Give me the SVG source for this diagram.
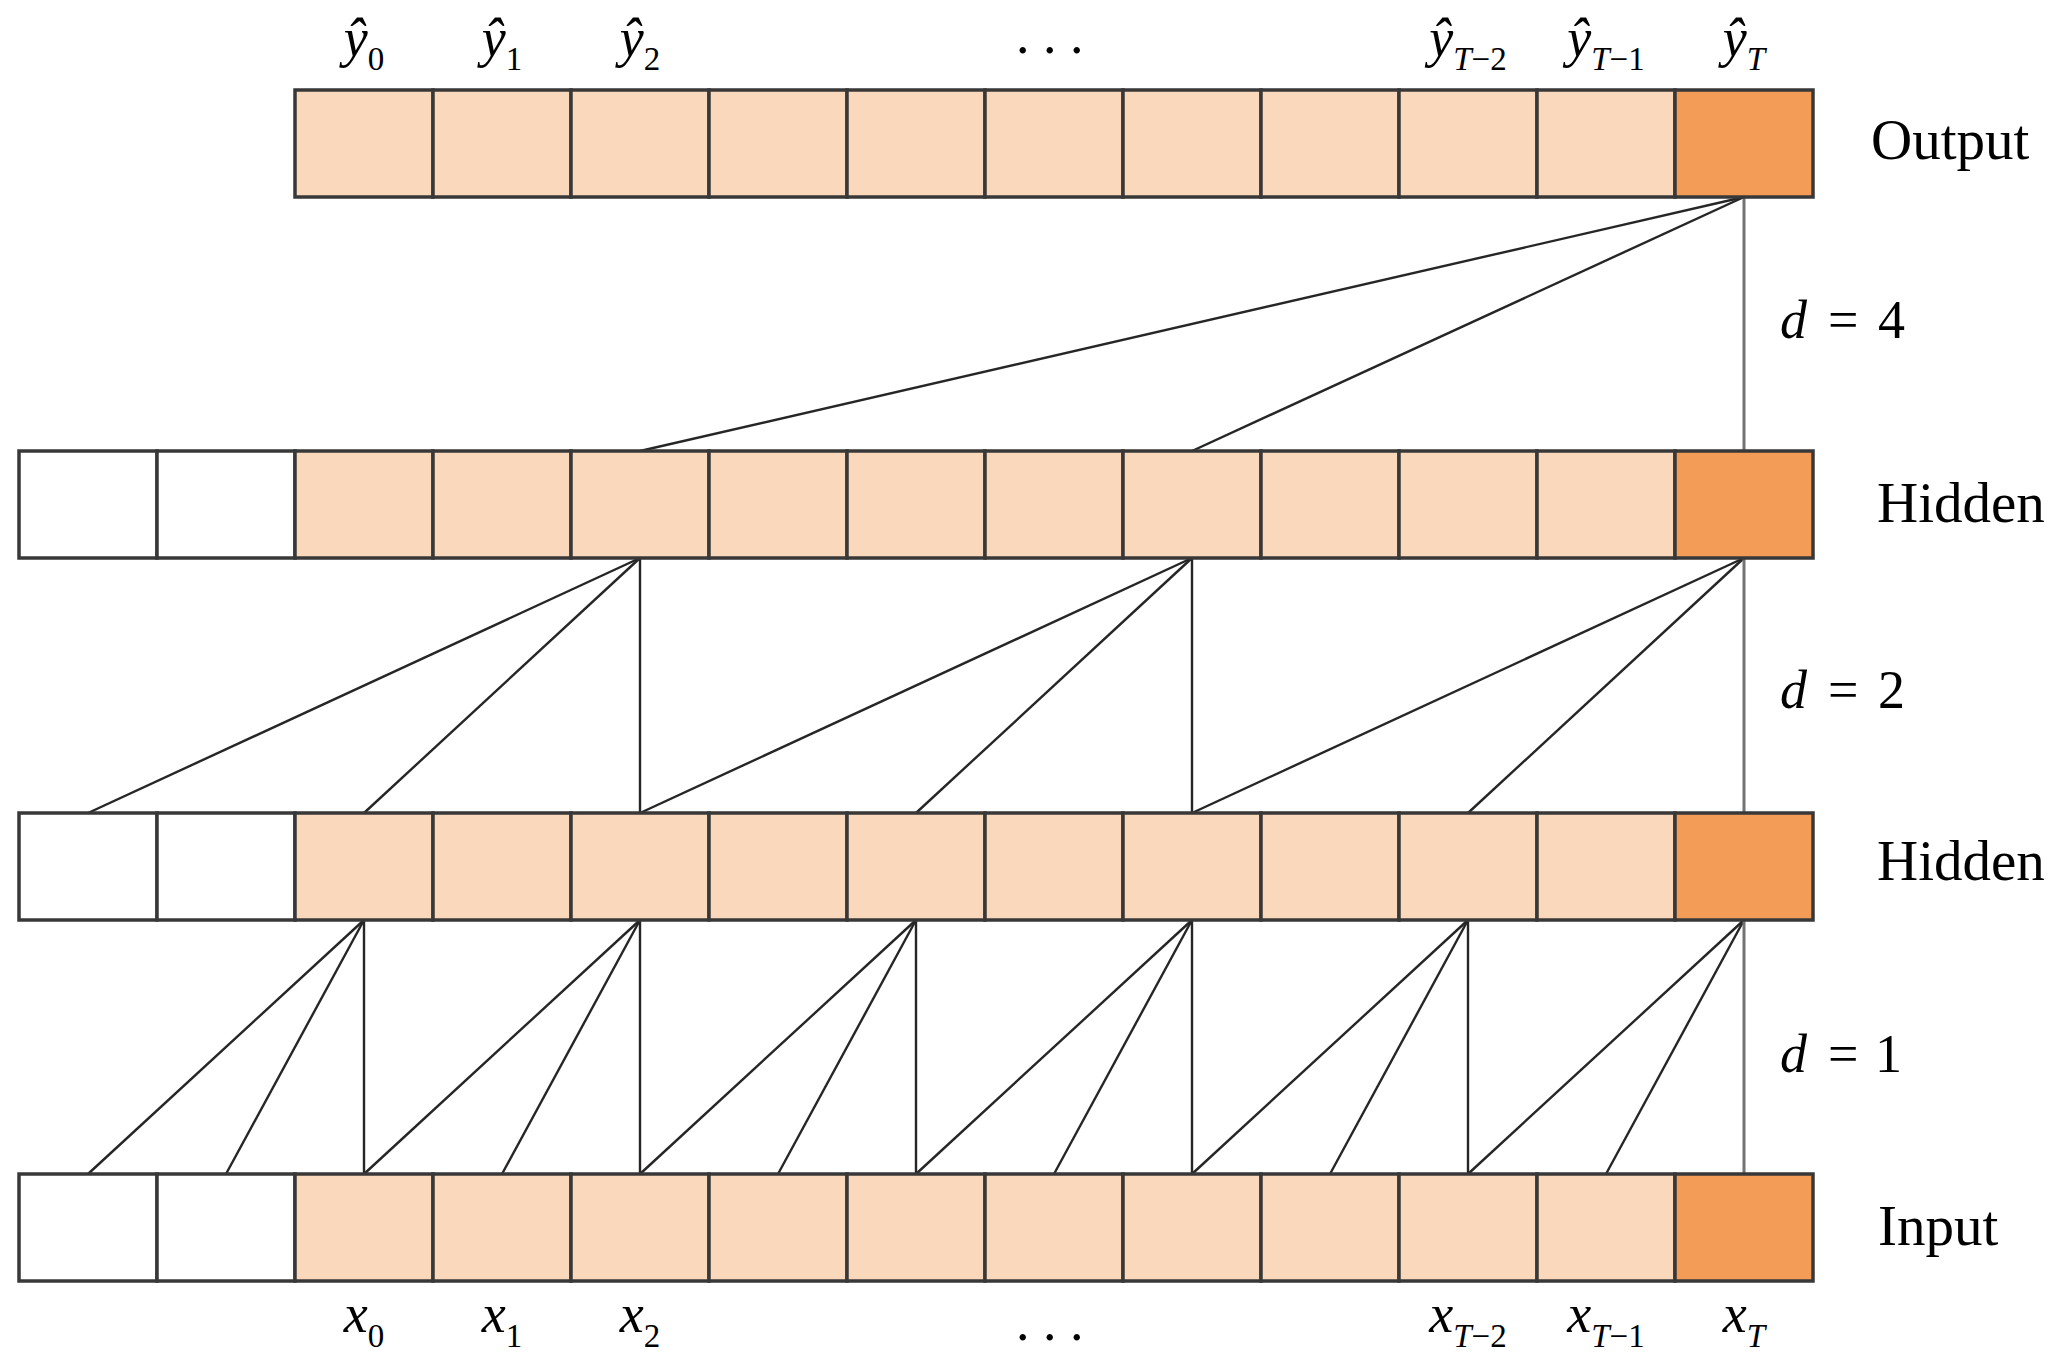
<svg xmlns="http://www.w3.org/2000/svg" width="2063" height="1366" viewBox="0 0 2063 1366">
<style>
.c{stroke:#383838;stroke-width:3.5}
.e{fill:#ffffff}
.l{fill:#fad8bc}
.o{fill:#f39c58}
.ln{stroke:#262626;stroke-width:2.4;fill:none}
.lg{stroke:#737373;stroke-width:3;fill:none}
text{font-family:"Liberation Serif","Times New Roman",serif;fill:#000}
.name{font-size:57px}
.lbl{font-size:54px;font-style:italic;text-anchor:middle}
.sub{font-size:33px;font-style:normal}
.it{font-style:italic}
.d{font-size:54px}
.dots{font-size:54px}
</style>
<rect width="2063" height="1366" fill="#ffffff"/>
<g id="connectors">
<!-- d = 4 -->
<line class="ln" x1="1744" y1="197" x2="640" y2="451"/>
<line class="ln" x1="1744" y1="197" x2="1192" y2="451"/>
<line class="lg" x1="1744" y1="197" x2="1744" y2="451"/>
<!-- d = 2 -->
<line class="ln" x1="640" y1="558" x2="88" y2="813"/>
<line class="ln" x1="640" y1="558" x2="364" y2="813"/>
<line class="ln" x1="640" y1="558" x2="640" y2="813"/>
<line class="ln" x1="1192" y1="558" x2="640" y2="813"/>
<line class="ln" x1="1192" y1="558" x2="916" y2="813"/>
<line class="ln" x1="1192" y1="558" x2="1192" y2="813"/>
<line class="ln" x1="1744" y1="558" x2="1192" y2="813"/>
<line class="ln" x1="1744" y1="558" x2="1468" y2="813"/>
<line class="lg" x1="1744" y1="558" x2="1744" y2="813"/>
<!-- d = 1 -->
<line class="ln" x1="364" y1="920" x2="88" y2="1174"/>
<line class="ln" x1="364" y1="920" x2="226" y2="1174"/>
<line class="ln" x1="364" y1="920" x2="364" y2="1174"/>
<line class="ln" x1="640" y1="920" x2="364" y2="1174"/>
<line class="ln" x1="640" y1="920" x2="502" y2="1174"/>
<line class="ln" x1="640" y1="920" x2="640" y2="1174"/>
<line class="ln" x1="916" y1="920" x2="640" y2="1174"/>
<line class="ln" x1="916" y1="920" x2="778" y2="1174"/>
<line class="ln" x1="916" y1="920" x2="916" y2="1174"/>
<line class="ln" x1="1192" y1="920" x2="916" y2="1174"/>
<line class="ln" x1="1192" y1="920" x2="1054" y2="1174"/>
<line class="ln" x1="1192" y1="920" x2="1192" y2="1174"/>
<line class="ln" x1="1468" y1="920" x2="1192" y2="1174"/>
<line class="ln" x1="1468" y1="920" x2="1330" y2="1174"/>
<line class="ln" x1="1468" y1="920" x2="1468" y2="1174"/>
<line class="ln" x1="1744" y1="920" x2="1468" y2="1174"/>
<line class="ln" x1="1744" y1="920" x2="1606" y2="1174"/>
<line class="lg" x1="1744" y1="920" x2="1744" y2="1174"/>
</g>
<g id="output">
<rect class="c l" x="295" y="90" width="138" height="107"/>
<rect class="c l" x="433" y="90" width="138" height="107"/>
<rect class="c l" x="571" y="90" width="138" height="107"/>
<rect class="c l" x="709" y="90" width="138" height="107"/>
<rect class="c l" x="847" y="90" width="138" height="107"/>
<rect class="c l" x="985" y="90" width="138" height="107"/>
<rect class="c l" x="1123" y="90" width="138" height="107"/>
<rect class="c l" x="1261" y="90" width="138" height="107"/>
<rect class="c l" x="1399" y="90" width="138" height="107"/>
<rect class="c l" x="1537" y="90" width="138" height="107"/>
<rect class="c o" x="1675" y="90" width="138" height="107"/>
<text class="name" x="1871" y="159">Output</text>
<text class="lbl" x="364" y="56">ŷ<tspan class="sub" dy="14">0</tspan></text>
<text class="lbl" x="502" y="56">ŷ<tspan class="sub" dy="14">1</tspan></text>
<text class="lbl" x="640" y="56">ŷ<tspan class="sub" dy="14">2</tspan></text>
<text class="dots" x="1016" y="53">. . .</text>
<text class="lbl" x="1468" y="56">ŷ<tspan class="sub" dy="14"><tspan class="it">T</tspan>−2</tspan></text>
<text class="lbl" x="1606" y="56">ŷ<tspan class="sub" dy="14"><tspan class="it">T</tspan>−1</tspan></text>
<text class="lbl" x="1744" y="56">ŷ<tspan class="sub" dy="14"><tspan class="it">T</tspan></tspan></text>
</g>
<g id="hidden1">
<rect class="c e" x="19" y="451" width="138" height="107"/>
<rect class="c e" x="157" y="451" width="138" height="107"/>
<rect class="c l" x="295" y="451" width="138" height="107"/>
<rect class="c l" x="433" y="451" width="138" height="107"/>
<rect class="c l" x="571" y="451" width="138" height="107"/>
<rect class="c l" x="709" y="451" width="138" height="107"/>
<rect class="c l" x="847" y="451" width="138" height="107"/>
<rect class="c l" x="985" y="451" width="138" height="107"/>
<rect class="c l" x="1123" y="451" width="138" height="107"/>
<rect class="c l" x="1261" y="451" width="138" height="107"/>
<rect class="c l" x="1399" y="451" width="138" height="107"/>
<rect class="c l" x="1537" y="451" width="138" height="107"/>
<rect class="c o" x="1675" y="451" width="138" height="107"/>
<text class="name" x="1877" y="522">Hidden</text>
</g>
<g id="hidden2">
<rect class="c e" x="19" y="813" width="138" height="107"/>
<rect class="c e" x="157" y="813" width="138" height="107"/>
<rect class="c l" x="295" y="813" width="138" height="107"/>
<rect class="c l" x="433" y="813" width="138" height="107"/>
<rect class="c l" x="571" y="813" width="138" height="107"/>
<rect class="c l" x="709" y="813" width="138" height="107"/>
<rect class="c l" x="847" y="813" width="138" height="107"/>
<rect class="c l" x="985" y="813" width="138" height="107"/>
<rect class="c l" x="1123" y="813" width="138" height="107"/>
<rect class="c l" x="1261" y="813" width="138" height="107"/>
<rect class="c l" x="1399" y="813" width="138" height="107"/>
<rect class="c l" x="1537" y="813" width="138" height="107"/>
<rect class="c o" x="1675" y="813" width="138" height="107"/>
<text class="name" x="1877" y="880">Hidden</text>
</g>
<g id="input">
<rect class="c e" x="19" y="1174" width="138" height="107"/>
<rect class="c e" x="157" y="1174" width="138" height="107"/>
<rect class="c l" x="295" y="1174" width="138" height="107"/>
<rect class="c l" x="433" y="1174" width="138" height="107"/>
<rect class="c l" x="571" y="1174" width="138" height="107"/>
<rect class="c l" x="709" y="1174" width="138" height="107"/>
<rect class="c l" x="847" y="1174" width="138" height="107"/>
<rect class="c l" x="985" y="1174" width="138" height="107"/>
<rect class="c l" x="1123" y="1174" width="138" height="107"/>
<rect class="c l" x="1261" y="1174" width="138" height="107"/>
<rect class="c l" x="1399" y="1174" width="138" height="107"/>
<rect class="c l" x="1537" y="1174" width="138" height="107"/>
<rect class="c o" x="1675" y="1174" width="138" height="107"/>
<text class="name" x="1878" y="1245">Input</text>
<text class="lbl" x="364" y="1332">x<tspan class="sub" dy="15">0</tspan></text>
<text class="lbl" x="502" y="1332">x<tspan class="sub" dy="15">1</tspan></text>
<text class="lbl" x="640" y="1332">x<tspan class="sub" dy="15">2</tspan></text>
<text class="dots" x="1016" y="1340">. . .</text>
<text class="lbl" x="1468" y="1332">x<tspan class="sub" dy="15"><tspan class="it">T</tspan>−2</tspan></text>
<text class="lbl" x="1606" y="1332">x<tspan class="sub" dy="15"><tspan class="it">T</tspan>−1</tspan></text>
<text class="lbl" x="1744" y="1332">x<tspan class="sub" dy="15"><tspan class="it">T</tspan></tspan></text>
</g>
<g id="dilations">
<text class="d" x="1780" y="338"><tspan class="it">d</tspan><tspan x="1828">=</tspan><tspan x="1878">4</tspan></text>
<text class="d" x="1780" y="708"><tspan class="it">d</tspan><tspan x="1828">=</tspan><tspan x="1878">2</tspan></text>
<text class="d" x="1780" y="1072"><tspan class="it">d</tspan><tspan x="1828">=</tspan><tspan x="1875">1</tspan></text>
</g>
</svg>
